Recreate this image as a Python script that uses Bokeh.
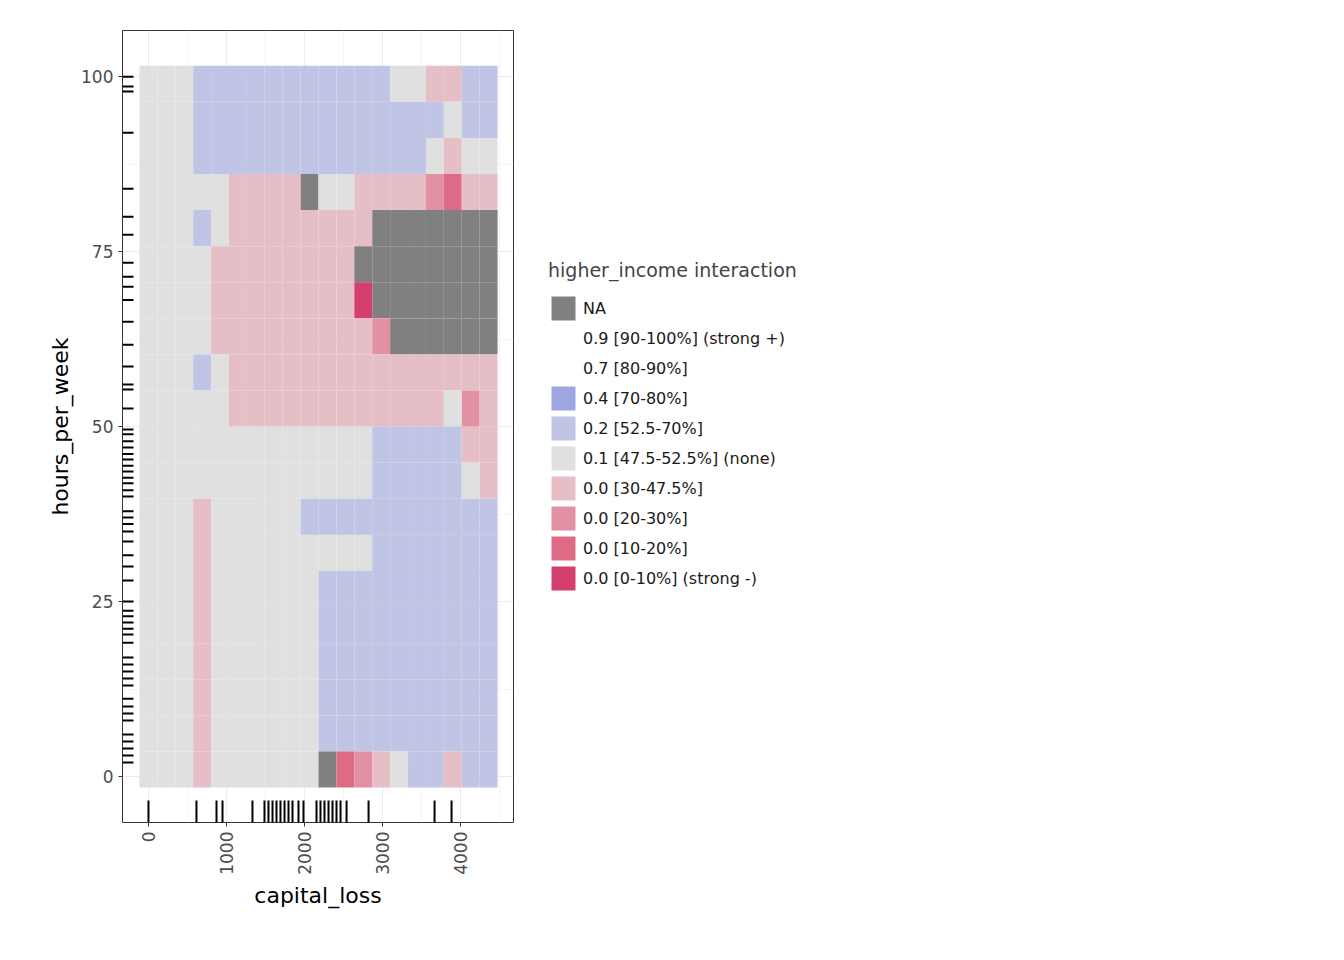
from bokeh.plotting import figure
from bokeh.models import Legend, LegendItem, FixedTicker
from bokeh.embed import file_html
from bokeh.resources import INLINE

# bin edges
x_start, x_step = -115.4, 229.5
y_start, y_step = -1.57, 5.157
# grid rows from top (hours ~100) to bottom (hours ~0); 20 columns of capital_loss
grid_rows = [
    "gggbbbbbbbbbbbggppbb",
    "gggbbbbbbbbbbbbbbgbb",
    "gggbbbbbbbbbbbbbgpgg",
    "gggggppppnggppppmdpp",
    "gggbgppppppppnnnnnnn",
    "ggggppppppppnnnnnnnn",
    "ggggppppppppsnnnnnnn",
    "ggggpppppppppmnnnnnn",
    "gggbgppppppppppppppp",
    "gggggppppppppppppgmp",
    "gggggggggggggbbbbbpp",
    "gggggggggggggbbbbbgp",
    "gggpgggggbbbbbbbbbbb",
    "gggpgggggggggbbbbbbb",
    "gggpggggggbbbbbbbbbb",
    "gggpggggggbbbbbbbbbb",
    "gggpggggggbbbbbbbbbb",
    "gggpggggggbbbbbbbbbb",
    "gggpggggggbbbbbbbbbb",
    "gggpggggggndmpgbbpbb",
]
code_colors = {"n": "#808080", "w": "#ffffff", "B": "#9ea6e0", "b": "#c1c5e5",
               "g": "#e0e0e0", "p": "#e6bec6", "m": "#e291a5", "d": "#dd6b85", "s": "#d43f6e"}
legend_labels = ["NA", "0.9 [90-100%] (strong +)", "0.7 [80-90%]", "0.4 [70-80%]",
                 "0.2 [52.5-70%]", "0.1 [47.5-52.5%] (none)", "0.0 [30-47.5%]",
                 "0.0 [20-30%]", "0.0 [10-20%]", "0.0 [0-10%] (strong -)"]
legend_codes = ["n", "w", "w", "B", "b", "g", "p", "m", "d", "s"]

rug_y = [100, 98.6, 97.9, 92, 84, 80, 77.4, 73.4, 71.4, 70, 68.1, 65, 61.7, 58.6, 56,
         55.3, 52.6, 49.6, 48.9, 47.9, 47, 46.1, 45.3, 44.4, 43.6, 42.7, 41.9, 40.9, 40,
         37.9, 37, 36.1, 35, 33.6, 31.6, 30, 28, 25, 23.7, 22.9, 22, 21.1, 20.3, 19.1, 17,
         16, 15, 14, 13, 11.1, 10, 9, 8, 6, 5, 4, 3, 2]
rug_x = [0, 615, 872, 949, 1333, 1487, 1538, 1590, 1641, 1692, 1744, 1795, 1846, 1923,
         1987, 2154, 2205, 2256, 2308, 2359, 2410, 2462, 2539, 2821, 3667, 3885]

xs, ys, cols = [], [], []
n = len(grid_rows)
for r, row in enumerate(grid_rows):
    for c, ch in enumerate(row):
        xs.append(x_start + x_step * (c + 0.5))
        ys.append(y_start + y_step * (n - r - 0.5))
        cols.append(code_colors[ch])

xmin, xmax = -333, 4679
ymin, ymax = -6.57, 106.6
p = figure(frame_width=391, frame_height=792, x_range=(xmin, xmax), y_range=(ymin, ymax),
           output_backend="svg", toolbar_location=None, min_border_left=122,
           min_border_top=30, min_border_bottom=120, min_border_right=5)
p.rect(x=xs, y=ys, width=x_step, height=y_step, fill_color=cols, line_color=None)

rug_len_y = (ymax - ymin) * 22 / 792
p.segment(x0=rug_x, y0=[ymin] * len(rug_x), x1=rug_x, y1=[ymin + rug_len_y] * len(rug_x),
          line_color="black", line_width=2)
rug_len_x = (xmax - xmin) * 11 / 391
p.segment(x0=[xmin] * len(rug_y), y0=rug_y, x1=[xmin + rug_len_x] * len(rug_y), y1=rug_y,
          line_color="black", line_width=2)

items = []
for lab, code in zip(legend_labels, legend_codes):
    rr = p.rect(x=[0], y=[0], width=0, height=0, fill_color=code_colors[code], line_color=None)
    items.append(LegendItem(label=lab, renderers=[rr]))
leg = Legend(items=items, title="higher_income interaction", location="left",
             label_text_font_size="16px", title_text_font_size="19px",
             label_text_font="DejaVu Sans", title_text_font="DejaVu Sans",
             title_text_font_style="normal", label_text_color="#1a1a1a",
             glyph_width=30, glyph_height=30, label_height=30, spacing=0,
             border_line_color=None, margin=35, padding=10, title_standoff=12)
p.add_layout(leg, "right")

p.xaxis.ticker = FixedTicker(ticks=[0, 1000, 2000, 3000, 4000], minor_ticks=[-500, 500, 1500, 2500, 3500, 4500])
p.yaxis.ticker = FixedTicker(ticks=[0, 25, 50, 75, 100], minor_ticks=[-12.5, 12.5, 37.5, 62.5, 87.5])
p.xaxis.major_label_orientation = 1.5708
for ax in (p.xaxis, p.yaxis):
    ax.axis_line_color = None
    ax.major_tick_out = 4
    ax.major_tick_in = 0
    ax.minor_tick_out = 0
    ax.minor_tick_in = 0
    ax.major_tick_line_color = "#333333"
    ax.major_label_text_font_size = "17px"
    ax.major_label_text_color = "#4d4d4d"
    ax.major_label_text_font = "DejaVu Sans"
    ax.axis_label_text_font_size = "22px"
    ax.axis_label_text_font = "DejaVu Sans"
    ax.axis_label_text_font_style = "normal"
    ax.axis_label_text_color = "#000000"
p.xaxis.axis_label = "capital_loss"
p.yaxis.axis_label = "hours_per_week"
p.grid.grid_line_color = "#ebebeb"
p.grid.minor_grid_line_color = "#f5f5f5"
p.outline_line_color = "#333333"
p.outline_line_width = 1

open("out.html", "w").write(file_html(p, INLINE))
